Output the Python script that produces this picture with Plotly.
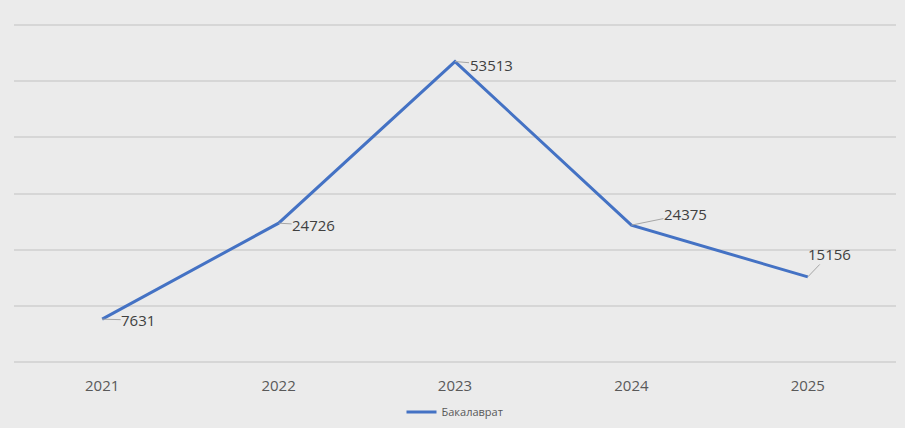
import plotly.graph_objects as go

years = ["2021", "2022", "2023", "2024", "2025"]
values = [7631, 24726, 53513, 24375, 15156]
series_name = "Бакалаврат"
label_offsets = [(36, 1), (35, 2), (36, 3), (54, -11), (22, -23)]

bg = "#ebebeb"
fig = go.Figure()
fig.add_trace(go.Scatter(
    x=years, y=values, mode="lines", name=series_name,
    line=dict(color="#4472c4", width=3),
))

for i, (yv, (ax, ay)) in enumerate(zip(values, label_offsets)):
    fig.add_annotation(
        x=i, y=yv, text=str(yv), showarrow=True, arrowhead=0,
        arrowwidth=1, arrowcolor="#a6a6a6", ax=ax, ay=ay,
        font=dict(family="Open Sans", size=15, color="#404040"),
        borderpad=0,
    )

fig.update_layout(
    width=905, height=428,
    margin=dict(l=14, r=9, t=24, b=66, autoexpand=False),
    paper_bgcolor=bg, plot_bgcolor=bg,
    showlegend=True,
    legend=dict(orientation="h", x=0.5, xanchor="center", y=-0.148, yanchor="middle",
                font=dict(family="Open Sans", size=11, color="#595959"),
                bgcolor="rgba(0,0,0,0)", itemwidth=30),
    xaxis=dict(type="category", categoryarray=years, range=[-0.5, len(years) - 0.5],
               showgrid=False, showline=False, zeroline=False,
               automargin=False,
               ticks="outside", ticklen=10, tickcolor="rgba(0,0,0,0)",
               tickfont=dict(family="Open Sans", size=15, color="#595959")),
    yaxis=dict(range=[0, 60200], dtick=10000, showticklabels=False,
               automargin=False,
               gridcolor="#d6d6d6", gridwidth=1.5, zeroline=True,
               zerolinecolor="#d6d6d6", zerolinewidth=1.5, showline=False),
)

fig.write_html("out.html")
